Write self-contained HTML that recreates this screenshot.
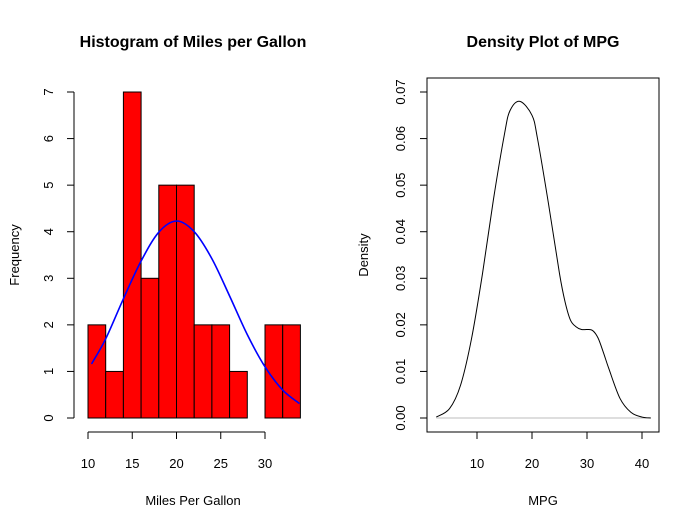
<!DOCTYPE html>
<html><head><meta charset="utf-8"><style>body{margin:0;background:#fff}svg{display:block;font-family:"Liberation Sans",Arial,sans-serif}</style></head>
<body>
<svg id="c" width="700" height="530" viewBox="0 0 700 530">
<rect width="700" height="530" fill="#fff"/>
</svg>
<script>
const histBreaks=[10,12,14,16,18,20,22,24,26,28,30,32,34];
const histCounts=[2,1,7,3,5,5,2,2,1,0,2,2];
const histXTicks=[10,15,20,25,30];
const histYTicks=[0,1,2,3,4,5,6,7];
const normX=[10.4,12,14,16,18,20,22,24,26,28,30,32,33.9];
const normY=[1.16,1.7,2.56,3.37,3.99,4.23,4.0,3.42,2.62,1.79,1.1,0.6,0.31];
const densX=[2.6,5,7,9,11,13,15,16,17.8,20,21,23,25,26,27,28,29,30,31,32,33,34,36,38,40,41.6];
const densY=[0.0002,0.002,0.007,0.017,0.031,0.047,0.061,0.066,0.068,0.065,0.06,0.046,0.031,0.025,0.021,0.0196,0.019,0.019,0.0188,0.0172,0.014,0.0105,0.0042,0.0012,0.0002,0];
const densXTicks=[10,20,30,40];
const densYTicks=[0,0.01,0.02,0.03,0.04,0.05,0.06,0.07];

const svg=document.getElementById('c');const NS='http://www.w3.org/2000/svg';
function mk(t,a,txt){const e=document.createElementNS(NS,t);for(const k in a)e.setAttribute(k,a[k]);if(txt!=null)e.textContent=txt;svg.appendChild(e);return e;}
const hx=v=>88+(v-10)*8.85, hy=v=>418-v*46.57;
const dx=v=>477+(v-10)*5.5, dy=v=>418-v*4657;
function smooth(xs,ys){let p=[];for(let i=0;i<xs.length;i++)p.push([xs[i],ys[i]]);let d='M'+p[0][0]+','+p[0][1];
for(let i=0;i<p.length-1;i++){const p0=p[Math.max(0,i-1)],p1=p[i],p2=p[i+1],p3=p[Math.min(p.length-1,i+2)];
d+=' C'+(p1[0]+(p2[0]-p0[0])/6)+','+(p1[1]+(p2[1]-p0[1])/6)+' '+(p2[0]-(p3[0]-p1[0])/6)+','+(p2[1]-(p3[1]-p1[1])/6)+' '+p2[0]+','+p2[1];}return d;}
// left
let e=mk('text',{x:193,y:47,'text-anchor':'middle','font-size':16,'font-weight':'bold'},'Histogram of Miles per Gallon');

histCounts.forEach((c,i)=>{const r=mk('rect',{x:hx(histBreaks[i]),y:hy(c),width:hx(histBreaks[i+1])-hx(histBreaks[i]),height:hy(0)-hy(c),fill:'#ff0000',stroke:'#000','stroke-width':1});
});
e=mk('path',{d:smooth(normX.map(hx),normY.map(hy)),fill:'none',stroke:'#0000ff','stroke-width':1.6});

mk('line',{x1:hx(10),x2:hx(30),y1:432,y2:432,stroke:'#000'});
histXTicks.forEach(v=>{mk('line',{x1:hx(v),x2:hx(v),y1:432,y2:439,stroke:'#000'});
const t=mk('text',{x:hx(v),y:468,'text-anchor':'middle','font-size':13},v);});
mk('line',{x1:74,x2:74,y1:hy(0),y2:hy(7),stroke:'#000'});
histYTicks.forEach(v=>{mk('line',{x1:67,x2:74,y1:hy(v),y2:hy(v),stroke:'#000'});
const t=mk('text',{x:53,y:hy(v),'text-anchor':'middle','font-size':13,transform:`rotate(-90 53 ${hy(v)})`},v);});
e=mk('text',{x:193,y:505,'text-anchor':'middle','font-size':13},'Miles Per Gallon');
e=mk('text',{x:19,y:255,'text-anchor':'middle','font-size':13,transform:'rotate(-90 19 255)'},'Frequency');
// right
e=mk('text',{x:543,y:47,'text-anchor':'middle','font-size':16,'font-weight':'bold'},'Density Plot of MPG');

e=mk('rect',{x:427,y:78,width:232,height:354,fill:'none',stroke:'#000'});
mk('line',{x1:dx(densX[0]),x2:dx(densX[densX.length-1]),y1:dy(0),y2:dy(0),stroke:'#bebebe'});
e=mk('path',{d:smooth(densX.map(dx),densY.map(dy)),fill:'none',stroke:'#000','stroke-width':1});

densXTicks.forEach(v=>{mk('line',{x1:dx(v),x2:dx(v),y1:432,y2:439,stroke:'#000'});
const t=mk('text',{x:dx(v),y:468,'text-anchor':'middle','font-size':13},v);});
densYTicks.forEach(v=>{mk('line',{x1:420,x2:427,y1:dy(v),y2:dy(v),stroke:'#000'});
const t=mk('text',{x:405,y:dy(v),'text-anchor':'middle','font-size':13,transform:`rotate(-90 405 ${dy(v)})`},v.toFixed(2));});
e=mk('text',{x:543,y:505,'text-anchor':'middle','font-size':13},'MPG');
e=mk('text',{x:368,y:255,'text-anchor':'middle','font-size':13,transform:'rotate(-90 368 255)'},'Density');
</script>
</body></html>
